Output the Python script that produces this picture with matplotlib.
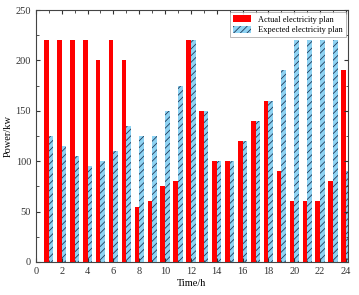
import numpy as np
import matplotlib.pyplot as plt

plt.rcParams["font.family"] = ["Liberation Serif", "DejaVu Serif"]
plt.rcParams["hatch.linewidth"] = 0.6

hours = np.arange(1, 25)
actual = [220, 220, 220, 220, 200, 220, 200, 55, 60, 75, 80, 220,
          150, 100, 100, 120, 140, 160, 90, 60, 60, 60, 80, 190]
expected = [125, 115, 105, 95, 100, 110, 135, 125, 125, 150, 175, 220,
            150, 100, 100, 120, 140, 160, 190, 220, 220, 220, 220, 90]

fig = plt.figure(figsize=(3.59, 2.95), dpi=100)
ax = fig.add_axes([0.1, 0.112, 0.869, 0.854])

w = 0.36
ax.bar(hours - w / 2, actual, width=w, color="#ff0000", label="Actual electricity plan")
ax.bar(hours + w / 2, expected, width=w, color="#8ed3f3", edgecolor="#1f3a5a",
       linewidth=0, hatch="/////", label="Expected electricity plan")

ax.set_xlim(0, 24.15)
ax.set_ylim(0, 250)
ax.set_xticks(range(0, 25, 2))
ax.set_xticks(range(0, 25), minor=True)
ax.set_yticks(range(0, 251, 50))
ax.set_yticks(range(0, 251, 25), minor=True)
ax.tick_params(which="both", direction="in", top=True, right=True, labelsize=7.5,
               colors="#333333")
ax.tick_params(which="major", length=3)
ax.tick_params(which="minor", length=1.8)
for s in ax.spines.values():
    s.set_color("#444444")
    s.set_linewidth(0.8)

ax.set_xlabel("Time/h", fontsize=7.5, labelpad=2)
ax.set_ylabel("Power/kw", fontsize=7.5, labelpad=2)

leg = ax.legend(loc="upper right", fontsize=6, frameon=True, fancybox=False,
                borderpad=0.35, handlelength=2.2, handleheight=1.0,
                labelspacing=0.25, borderaxespad=0.25)
leg.get_frame().set_edgecolor("#999999")
leg.get_frame().set_linewidth(0.6)

plt.savefig("out.png", dpi=100)
